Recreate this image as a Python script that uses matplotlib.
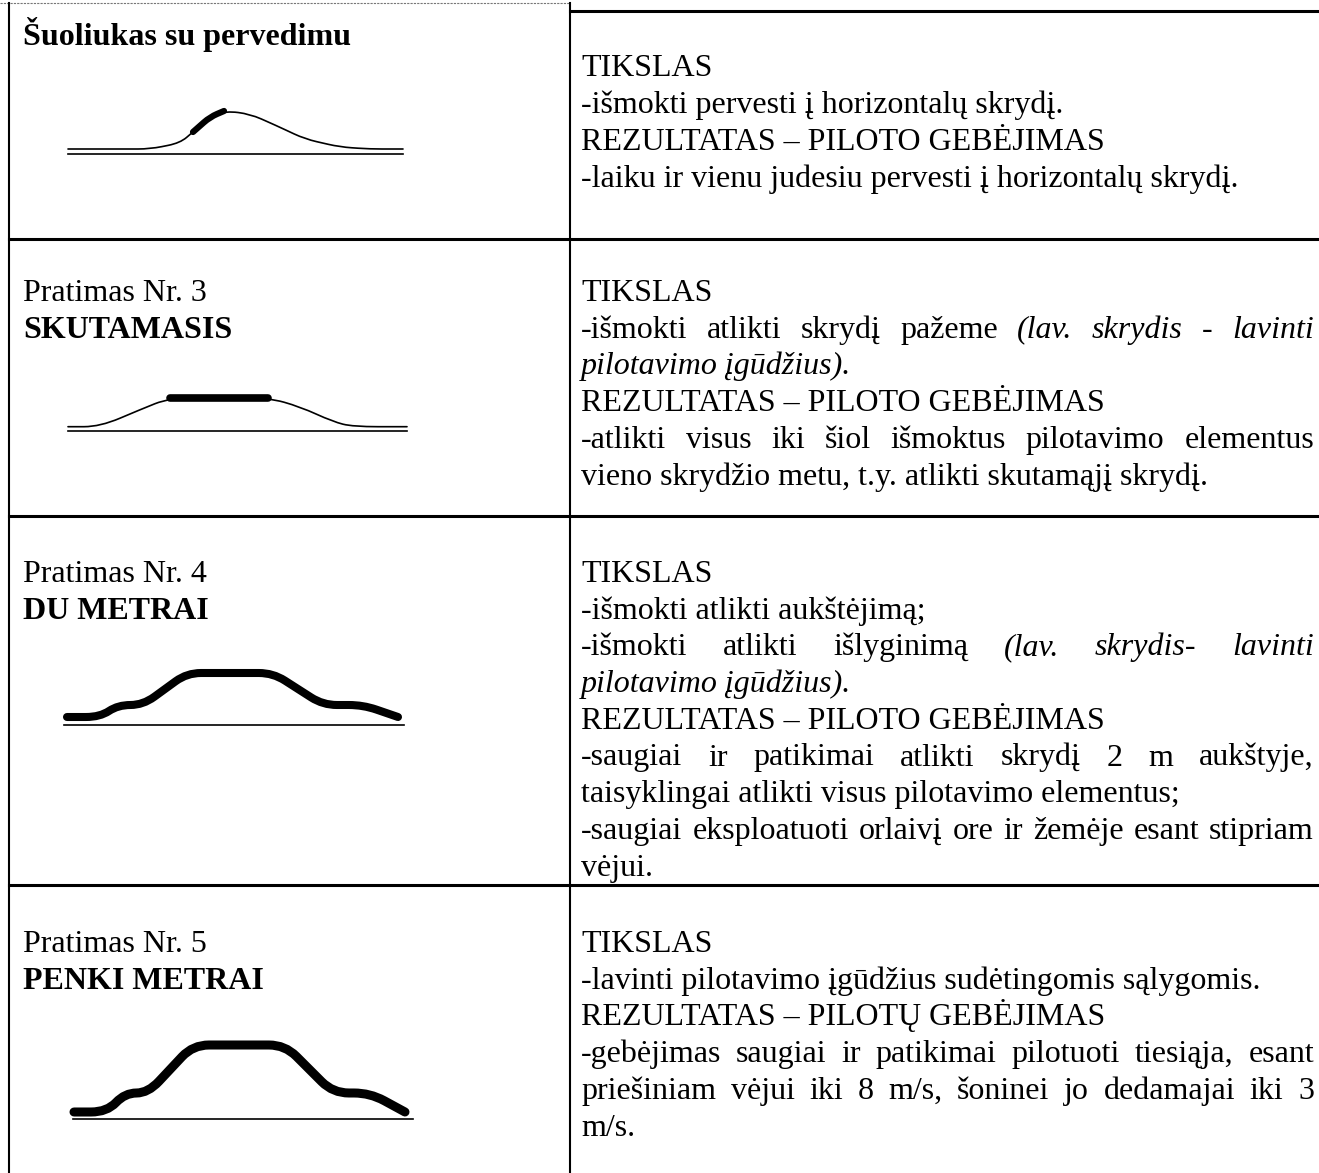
import numpy as np
import matplotlib
matplotlib.use('Agg')
import matplotlib.pyplot as plt
from matplotlib.path import Path
from matplotlib.patches import PathPatch

W, H = 1319, 1173
FONT = 'Liberation Serif'
FS = 23            # pt, body text
PX = FS * 100 / 72  # font size in pixels

# ---- text content -------------------------------------------------------
left_titles = [
    [("Šuoliukas su pervedimu", 'bold')],
    [("Pratimas Nr. 3", 'normal'), ("SKUTAMASIS", 'bold')],
    [("Pratimas Nr. 4", 'normal'), ("DU METRAI", 'bold')],
    [("Pratimas Nr. 5", 'normal'), ("PENKI METRAI", 'bold')],
]

row1_text = ["TIKSLAS",
             "-išmokti pervesti į horizontalų skrydį.",
             "REZULTATAS – PILOTO GEBĖJIMAS",
             "-laiku ir vienu judesiu pervesti į horizontalų skrydį."]
row1_just = [0, 0, 0, 0]
row2_text = ["TIKSLAS",
             "-išmokti atlikti skrydį pažeme *(lav. skrydis - lavinti*",
             "*pilotavimo įgūdžius).*",
             "REZULTATAS – PILOTO GEBĖJIMAS",
             "-atlikti visus iki šiol išmoktus pilotavimo elementus",
             "vieno skrydžio metu, t.y. atlikti skutamąjį skrydį."]
row2_just = [0, 1, 0, 0, 1, 0]
row3_text = ["TIKSLAS",
             "-išmokti atlikti aukštėjimą;",
             "-išmokti atlikti išlyginimą *(lav. skrydis- lavinti*",
             "*pilotavimo įgūdžius).*",
             "REZULTATAS – PILOTO GEBĖJIMAS",
             "-saugiai ir patikimai atlikti skrydį 2 m aukštyje,",
             "taisyklingai atlikti visus pilotavimo elementus;",
             "-saugiai eksploatuoti orlaivį ore ir žemėje esant stipriam",
             "vėjui."]
row3_just = [0, 0, 1, 0, 0, 1, 0, 1, 0]
row4_text = ["TIKSLAS",
             "-lavinti pilotavimo įgūdžius sudėtingomis sąlygomis.",
             "REZULTATAS – PILOTŲ GEBĖJIMAS",
             "-gebėjimas saugiai ir patikimai pilotuoti tiesiąja, esant",
             "priešiniam vėjui iki 8 m/s, šoninei jo dedamajai iki 3",
             "m/s."]
row4_just = [0, 0, 0, 1, 1, 0]

# ---- flight profiles (distance along drawing, height above ground) -------
hop_x = [0, 82, 112, 125, 142, 158, 182, 207, 237, 272, 302, 335]
hop_h = [5, 5, 11, 22, 37, 43, 40, 29, 15, 7, 5, 5]
hop_thick_x = [125, 142, 156]
hop_thick_h = [22, 37, 43]

skut_x = [0, 32, 72, 102, 200, 232, 265, 285, 339]
skut_h = [4, 4, 21, 33, 33, 24, 9, 4, 4]
skut_thick_x = [102, 200]
skut_thick_h = [33, 33]

du_x = [3, 36, 54, 79, 123, 209, 259, 299, 334]
du_h = [8, 8, 20, 20, 52, 52, 20, 20, 8]

penki_x = [1, 34, 52, 75, 120, 212, 260, 297, 332]
penki_h = [7, 7, 26, 26, 74, 74, 26, 26, 7]

# ---- layout ---------------------------------------------------------------
row_lines = [239, 516, 885]
col_x = 570
left_x = 8.5
text_x0, text_x1 = 581, 1314
spacing = 36.7
first_baseline = [76.5, 301, 582, 952]
title_baseline = [45, 301, 582, 952]


def rounded_path(xs, ys, r):
    p = np.column_stack([xs, ys]).astype(float)
    verts, codes = [p[0]], [Path.MOVETO]
    for i in range(1, len(p) - 1):
        a, b, c = p[i - 1], p[i], p[i + 1]
        la, lc = np.hypot(*(a - b)), np.hypot(*(c - b))
        s = b + (a - b) * min(r / la, 0.5)
        e = b + (c - b) * min(r / lc, 0.5)
        verts += [s, b, e]
        codes += [Path.LINETO, Path.CURVE3, Path.CURVE3]
    verts.append(p[-1])
    codes.append(Path.LINETO)
    return Path(verts, codes)


def draw_profile(ax, x0, yg, xs, hs, lw, r):
    xs = x0 + np.asarray(xs, float)
    ys = yg - np.asarray(hs, float)
    ax.add_patch(PathPatch(rounded_path(xs, ys, r), fill=False, lw=lw,
                           edgecolor='black', capstyle='round',
                           joinstyle='round'))


fig = plt.figure(figsize=(W / 100, H / 100), dpi=100)
ax = fig.add_axes([0, 0, 1, 1])
ax.set_xlim(0, W)
ax.set_ylim(H, 0)
ax.axis('off')
renderer = fig.canvas.get_renderer()

# table frame
ax.plot([0, col_x], [2.5, 2.5], color='#777777', lw=0.8, ls=(0, (2, 1)))
ax.plot([left_x, left_x], [3, H], color='black', lw=1.5)
ax.plot([col_x, col_x], [3, H], color='black', lw=1.5)
ax.plot([col_x, W], [11, 11], color='black', lw=2.2)
for y in row_lines:
    ax.plot([left_x, W], [y, y], color='black', lw=2.2)


def parse(line):
    segs = []
    for k, part in enumerate(line.split('*')):
        if part:
            segs.append((part, k % 2 == 1))
    return segs


def put_line(line, y, justify):
    segs = parse(line)
    if not justify:
        x = text_x0
        for s, it in segs:
            t = ax.text(x, y, s, fontsize=FS, family=FONT, va='baseline',
                        style='italic' if it else 'normal')
            x += t.get_window_extent(renderer).width + (0.25 * PX if s.endswith(' ') else 0)
        return
    words = [(w, it) for s, it in segs for w in s.split()]
    texts = [ax.text(0, y, w, fontsize=FS, family=FONT, va='baseline',
                     style='italic' if it else 'normal') for w, it in words]
    widths = [t.get_window_extent(renderer).width for t in texts]
    gap = (text_x1 - text_x0 - sum(widths)) / (len(texts) - 1)
    x = text_x0
    for t, wd in zip(texts, widths):
        t.set_x(x)
        x += wd + gap


rows = [(row1_text, row1_just), (row2_text, row2_just),
        (row3_text, row3_just), (row4_text, row4_just)]
for (lines, just), y0 in zip(rows, first_baseline):
    for i, (line, j) in enumerate(zip(lines, just)):
        put_line(line, y0 + i * spacing, j)

for items, y0 in zip(left_titles, title_baseline):
    for i, (s, wt) in enumerate(items):
        ax.text(23, y0 + i * spacing, s, fontsize=FS, family=FONT,
                weight=wt, va='baseline')

# drawings
ax.plot([68, 403], [154, 154], color='black', lw=1.2)
draw_profile(ax, 68, 154, hop_x, hop_h, 1.2, 12)
draw_profile(ax, 68, 154, hop_thick_x, hop_thick_h, 4.5, 8)

ax.plot([68, 407], [430.7, 430.7], color='black', lw=1.2)
draw_profile(ax, 68, 430.7, skut_x, skut_h, 1.2, 25)
draw_profile(ax, 68, 430.7, skut_thick_x, skut_thick_h, 5.5, 5)

ax.plot([64, 404], [725, 725], color='black', lw=1.2)
draw_profile(ax, 64, 725, du_x, du_h, 5.8, 14)

ax.plot([73, 413], [1119, 1119], color='black', lw=1.2)
draw_profile(ax, 73, 1119, penki_x, penki_h, 6.5, 16)

fig.savefig('out.png', dpi=100)
